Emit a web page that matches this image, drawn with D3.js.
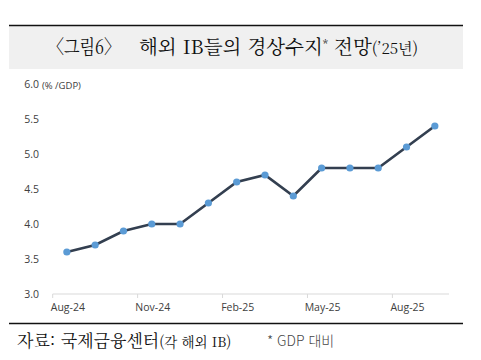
<!DOCTYPE html>
<html lang="ko">
<head>
<meta charset="utf-8">
<script src="https://cdn.jsdelivr.net/npm/d3@7"></script>
<style>
  body { margin: 0; background: #fff; }
  svg { display: block; }
</style>
</head>
<body>
<script>
    // months Aug-24 .. Sep-25
    var months = ['Aug-24', 'Sep-24', 'Oct-24', 'Nov-24', 'Dec-24', 'Jan-25', 'Feb-25',
        'Mar-25', 'Apr-25', 'May-25', 'Jun-25', 'Jul-25', 'Aug-25', 'Sep-25'];
    var values = [3.6, 3.7, 3.9, 4.0, 4.0, 4.3, 4.6, 4.7, 4.4, 4.8, 4.8, 4.8, 5.1, 5.4];
    var shownLabels = ['Aug-24', 'Nov-24', 'Feb-25', 'May-25', 'Aug-25'];
    var yTicks = [3.0, 3.5, 4.0, 4.5, 5.0, 5.5, 6.0];

    var W = 481, H = 360;
    var svg = d3.select('body').append('svg')
            .attr('width', W)
            .attr('height', H);

    // title band
    svg.append('rect')
            .attr('x', 9).attr('y', 26)
            .attr('width', 454).attr('height', 43)
            .style('fill', '#f0f0f0');
    svg.append('line')
            .attr('x1', 9).attr('x2', 463)
            .attr('y1', 25.5).attr('y2', 25.5)
            .style('stroke', '#111').style('stroke-width', 1.3);

    svg.append('text')
            .attr('x', 48).attr('y', 54)
            .attr('textLength', 72)
            .attr('lengthAdjust', 'spacingAndGlyphs')
            .style('font-family', '"Noto Serif CJK KR", "Noto Sans CJK KR", serif')
            .style('font-size', '19.5px')
            .style('fill', '#111')
            .text('〈그림6〉');

    var title = svg.append('text')
            .attr('x', 139).attr('y', 54)
            .style('font-family', '"Noto Serif CJK KR", "Noto Sans CJK KR", serif')
            .style('font-size', '19.5px')
            .style('fill', '#111');
    title.append('tspan').text('해외 IB들의 경상수지');
    title.append('tspan').attr('dy', -6).style('font-size', '11px').text('*');
    title.append('tspan').attr('dy', 6).text(' 전망');
    title.append('tspan').style('font-size', '15px').text('(’25년)');

    var x = d3.scaleBand()
            .domain(months)
            .range([52.7, 449]);

    var y = d3.scaleLinear()
            .domain([3, 6])
            .range([294, 84]);

    // x axis
    var xAxis = svg.append('g').attr('transform', 'translate(0,294)');
    xAxis.append('line')
            .attr('x1', x.range()[0]).attr('x2', x.range()[1])
            .style('stroke', '#d9d9d9').style('stroke-width', 1);
    xAxis.selectAll('.tk')
            .data(shownLabels)
            .enter()
            .append('line')
            .attr('x1', function (d) { return x(d); })
            .attr('x2', function (d) { return x(d); })
            .attr('y1', 0).attr('y2', 4)
            .style('stroke', '#d9d9d9');
    xAxis.selectAll('.lbl')
            .data(shownLabels)
            .enter()
            .append('text')
            .attr('x', function (d) { return x(d) + x.bandwidth() / 2 + 1; })
            .attr('y', 17)
            .attr('text-anchor', 'middle')
            .style('font-family', '"Open Sans", "Noto Sans", sans-serif')
            .style('font-size', '10.5px')
            .style('fill', '#404040')
            .text(function (d) { return d; });

    // y axis labels
    svg.selectAll('.ylbl')
            .data(yTicks)
            .enter()
            .append('text')
            .attr('x', 39)
            .attr('y', function (d) { return y(d) + 4; })
            .attr('text-anchor', 'end')
            .style('font-family', '"Open Sans", "Noto Sans", sans-serif')
            .style('font-size', '10.5px')
            .style('fill', '#404040')
            .text(function (d) { return d.toFixed(1); });

    svg.append('text')
            .attr('x', 42).attr('y', 89)
            .style('font-family', '"Open Sans", "Noto Sans", sans-serif')
            .style('font-size', '9.5px')
            .style('fill', '#404040')
            .text('(% /GDP)');

    // line + markers
    var line = d3.line()
            .x(function (d, i) { return x(months[i]) + x.bandwidth() / 2; })
            .y(function (d) { return y(d); });

    svg.append('path')
            .datum(values)
            .attr('d', line)
            .style('fill', 'none')
            .style('stroke', '#333f50')
            .style('stroke-width', 2.7);

    svg.selectAll('.pt')
            .data(values)
            .enter()
            .append('circle')
            .attr('cx', function (d, i) { return x(months[i]) + x.bandwidth() / 2; })
            .attr('cy', function (d) { return y(d); })
            .attr('r', 3.6)
            .style('fill', '#5b9bd5');

    // bottom rule + source
    svg.append('line')
            .attr('x1', 9).attr('x2', 463)
            .attr('y1', 323.5).attr('y2', 323.5)
            .style('stroke', '#111').style('stroke-width', 1.3);

    var src = svg.append('text')
            .attr('x', 17).attr('y', 347)
            .style('font-family', '"Noto Serif CJK KR", "Noto Sans CJK KR", serif')
            .style('font-size', '17px')
            .style('fill', '#111');
    src.append('tspan').text('자료: 국제금융센터');
    src.append('tspan').style('font-size', '13.5px').text('(각 해외 IB)');

    svg.append('text')
            .attr('x', 267).attr('y', 346)
            .style('font-family', '"Noto Sans CJK KR", sans-serif')
            .style('font-size', '14px')
            .style('font-weight', 300)
            .style('fill', '#444')
            .text('* GDP 대비');
</script>
</body>
</html>
